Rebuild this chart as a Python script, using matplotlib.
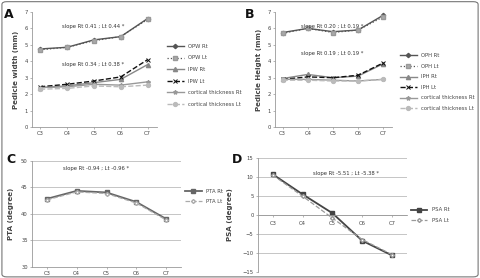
import matplotlib.pyplot as plt
from matplotlib.patches import FancyBboxPatch

levels = ['C3', 'C4', 'C5', 'C6', 'C7']

# panel A - pedicle width (mm)
opw_rt = [4.75, 4.85, 5.3, 5.5, 6.6]
opw_lt = [4.7, 4.85, 5.25, 5.5, 6.55]
ipw_rt = [2.4, 2.5, 2.7, 2.9, 3.8]
ipw_lt = [2.45, 2.6, 2.8, 3.05, 4.1]
ct_w_rt = [2.4, 2.45, 2.6, 2.55, 2.75]
ct_w_lt = [2.3, 2.35, 2.5, 2.45, 2.55]

# panel B - pedicle height (mm)
oph_rt = [5.75, 6.0, 5.8, 5.9, 6.8]
oph_lt = [5.7, 6.0, 5.75, 5.9, 6.7]
iph_rt = [2.95, 3.2, 3.0, 3.1, 3.85]
iph_lt = [2.9, 3.05, 3.0, 3.15, 3.9]
ct_h_rt = [2.9, 2.9, 2.85, 2.8, 2.9]
ct_h_lt = [2.85, 2.85, 2.8, 2.8, 2.9]

# panel C / D - angles (degree)
pta_rt = [42.8, 44.3, 44.0, 42.2, 39.0]
pta_lt = [42.6, 44.1, 43.8, 42.0, 38.8]
psa_rt = [10.8, 5.5, 0.5, -6.8, -10.7]
psa_lt = [10.6, 5.0, -0.8, -6.5, -10.5]

plt.rcParams['font.family'] = 'DejaVu Sans'
fig = plt.figure(figsize=(4.81, 2.78), dpi=100)

# thin rounded frame round the whole figure
fig.patches.append(FancyBboxPatch((0.004, 0.004), 0.99, 0.99, boxstyle='round,pad=0,rounding_size=0.01',
                                  transform=fig.transFigure, fill=False, ec='#777777', lw=0.8))

tick_fs = 3.8
ylab_fs = 5.1
x = range(len(levels))


def style(ax):
    for s in ['top', 'right']:
        ax.spines[s].set_visible(False)
    for s in ['left', 'bottom']:
        ax.spines[s].set_color('#999999')
        ax.spines[s].set_linewidth(0.6)
    ax.tick_params(labelsize=tick_fs, length=1.5, width=0.5, colors='#999999', labelcolor='#444444', pad=1.5)
    ax.set_xticks(list(x))
    ax.set_xticklabels(levels)


def width_panel(ax, rt1, lt1, rt2, lt2, rt3, lt3, names, ylabel, txt1, txt2, txtpos):
    ax.plot(x, rt1, color='#555555', lw=1.0, marker='D', ms=2.2, label=names[0])
    ax.plot(x, lt1, color='#555555', lw=0.9, ls=':', marker='s', ms=3, mfc='#aaaaaa', mec='#999999', label=names[1])
    ax.plot(x, rt2, color='#888888', lw=1.0, marker='^', ms=3, label=names[2])
    ax.plot(x, lt2, color='#111111', lw=1.0, ls='--', marker='x', ms=3, mew=0.7, label=names[3])
    ax.plot(x, rt3, color='#999999', lw=1.0, marker='*', ms=3, label=names[4])
    ax.plot(x, lt3, color='#bbbbbb', lw=1.0, ls='--', marker='o', ms=2.8, label=names[5])
    ax.set_ylim(0, 7)
    ax.set_xlim(-0.3, 4.35)
    ax.set_yticks(range(8))
    style(ax)
    ax.set_ylabel(ylabel, fontsize=ylab_fs, fontweight='bold', color='#444444', labelpad=4)
    ax.text(txtpos[0], txtpos[1], txt1, fontsize=3.8, color='#333333', va='center')
    ax.text(txtpos[0], txtpos[2], txt2, fontsize=3.8, color='#333333', va='center')


axA = fig.add_axes([0.0665, 0.543, 0.26, 0.414])
width_panel(axA, opw_rt, opw_lt, ipw_rt, ipw_lt, ct_w_rt, ct_w_lt,
            ['OPW Rt', 'OPW Lt', 'IPW Rt', 'IPW Lt', 'cortical thickness Rt', 'cortical thickness Lt'],
            'Pedicle width (mm)', 'slope Rt 0.41 ; Lt 0.44 *', 'slope Rt 0.34 ; Lt 0.38 *', (0.8, 6.1, 3.8))
axA.legend(loc='center left', bbox_to_anchor=(1.06, 0.45), fontsize=3.8, frameon=False,
           handlelength=3.2, labelspacing=1.25, borderaxespad=0, labelcolor='#444444')

axB = fig.add_axes([0.572, 0.543, 0.243, 0.414])
width_panel(axB, oph_rt, oph_lt, iph_rt, iph_lt, ct_h_rt, ct_h_lt,
            ['OPH Rt', 'OPH Lt', 'IPH Rt', 'IPH Lt', 'cortical thickness Rt', 'cortical thickness Lt'],
            'Pedicle Height (mm)', 'slope Rt 0.20 ; Lt 0.19 *', 'slope Rt 0.19 ; Lt 0.19 *', (0.73, 6.1, 4.5))
axB.legend(loc='center left', bbox_to_anchor=(1.05, 0.39), fontsize=3.8, frameon=False,
           handlelength=3.2, labelspacing=1.05, borderaxespad=0, labelcolor='#444444')

# panel C
axC = fig.add_axes([0.0665, 0.041, 0.31, 0.381])
axC.plot(x, pta_rt, color='#666666', lw=1.3, marker='s', ms=2.5, label='PTA Rt')
axC.plot(x, pta_lt, color='#aaaaaa', lw=0.9, ls='--', marker='D', ms=2, mfc='white', label='PTA Lt')
axC.set_ylim(30, 50)
axC.set_xlim(-0.5, 4.5)
axC.set_yticks(range(30, 51, 5))
axC.grid(axis='y', color='#bbbbbb', lw=0.6)
axC.set_axisbelow(True)
style(axC)
axC.set_ylabel('PTA (degree)', fontsize=ylab_fs, fontweight='bold', color='#444444', labelpad=5)
axC.text(0.55, 48.6, 'slope Rt -0.94 ; Lt -0.96 *', fontsize=3.8, color='#333333', va='center')
axC.legend(loc='center left', bbox_to_anchor=(1.01, 0.66), fontsize=3.8, frameon=False,
           handlelength=3.2, labelspacing=1.0, borderaxespad=0, labelcolor='#444444')

# panel D
axD = fig.add_axes([0.536, 0.023, 0.31, 0.407])
axD.plot(x, psa_rt, color='#444444', lw=1.3, marker='s', ms=2.5, label='PSA Rt')
axD.plot(x, psa_lt, color='#999999', lw=0.9, ls='--', marker='D', ms=2, mfc='white', label='PSA Lt')
axD.set_ylim(-15, 15)
axD.set_xlim(-0.5, 4.5)
axD.set_yticks(range(-15, 16, 5))
axD.grid(axis='y', color='#bbbbbb', lw=0.6)
axD.set_axisbelow(True)
style(axD)
axD.spines['bottom'].set_position(('data', 0))
axD.tick_params(axis='x', pad=2.5)
axD.set_ylabel('PSA (degree)', fontsize=ylab_fs, fontweight='bold', color='#444444', labelpad=7)
axD.text(1.35, 11.1, 'slope Rt -5.51 ; Lt -5.38 *', fontsize=3.8, color='#333333', va='center')
axD.legend(loc='center left', bbox_to_anchor=(1.01, 0.5), fontsize=3.8, frameon=False,
           handlelength=3.2, labelspacing=1.0, borderaxespad=0, labelcolor='#444444')

# panel letters
for lbl, px, py in [('A', 0.008, 0.935), ('B', 0.51, 0.935), ('C', 0.014, 0.414), ('D', 0.482, 0.414)]:
    fig.text(px, py, lbl, fontsize=9, fontweight='bold', color='#111111')

fig.savefig('out.png', dpi=100)
